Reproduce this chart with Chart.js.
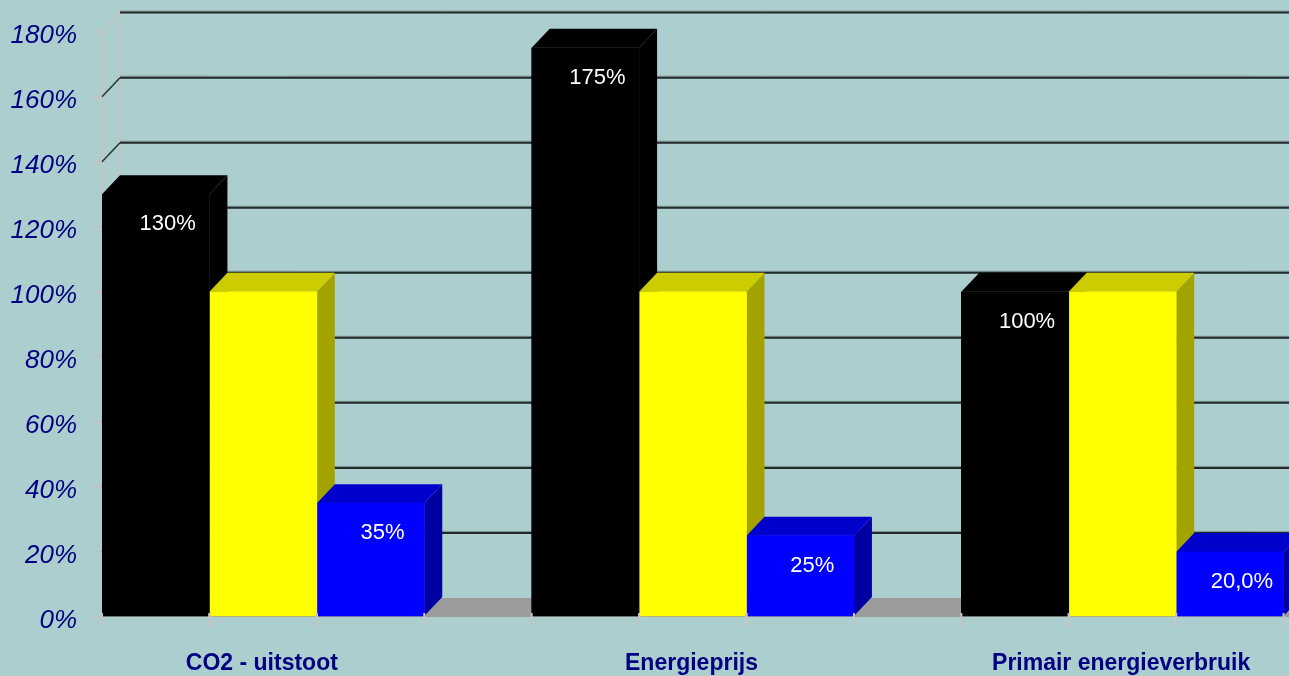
<!DOCTYPE html>
<html>
<head>
<meta charset="utf-8">
<script src="https://cdn.jsdelivr.net/npm/chart.js@4.4.1/dist/chart.umd.min.js"></script>
<style>
html, body { margin: 0; padding: 0; overflow: hidden; background: #adcece; }
#wrap { width: 1400px; height: 676px; }
</style>
</head>
<body>
<div id="wrap"><canvas id="grafiek"></canvas></div>
<script>
const categorieen = ['CO2 - uitstoot', 'Energieprijs', 'Primair energieverbruik'];
const zwart = [130, 175, 100];
const geel = [100, 100, 100];
const blauw = [35, 25, 20];
const labelsZwart = ['130%', '175%', '100%'];
const labelsBlauw = ['35%', '25%', '20,0%'];
const yTicks = [0, 20, 40, 60, 80, 100, 120, 140, 160, 180];

// diepte van het 3D effect
const dx = 18, dy = -19;

const kleuren = [
    { voor: '#000000', top: '#000000', zij: '#000000' },   // zwart
    { voor: '#ffff00', top: '#cccc00', zij: '#a3a300' },   // geel
    { voor: '#0000ff', top: '#0000cc', zij: '#0000a0' },   // blauw
];

function vlak(ctx, punten) {
    ctx.beginPath();
    ctx.moveTo(punten[0][0], punten[0][1]);
    for (let i = 1; i < punten.length; i++) ctx.lineTo(punten[i][0], punten[i][1]);
    ctx.closePath();
    ctx.fill();
}

function lijn(ctx, x0, y0, x1, y1) {
    ctx.beginPath();
    ctx.moveTo(x0, y0);
    ctx.lineTo(x1, y1);
    ctx.stroke();
}

const drieD = {
    id: 'drieD',
    beforeDatasetsDraw(chart) {
        const ctx = chart.ctx;
        const { left, right, top, bottom } = chart.chartArea;
        const y = chart.scales.y;
        ctx.save();

        // achterwand: linkerrand
        ctx.strokeStyle = '#c4c4c4';
        ctx.lineWidth = 1.5;
        lijn(ctx, left + dx, top + dy, left + dx, bottom + dy);

        // rasterlijnen op de achterwand
        yTicks.forEach(v => {
            if (v === 0) return;
            const py = y.getPixelForValue(v);
            ctx.lineWidth = 1.5;
            ctx.strokeStyle = v === yTicks[yTicks.length - 1] ? '#c4c4c4' : '#2a3434';
            lijn(ctx, left, py, left + dx, py + dy);
            ctx.lineWidth = 1;
            ctx.strokeStyle = '#7d9494';
            lijn(ctx, left + dx, py + dy - 1.5, right + dx, py + dy - 1.5);
            ctx.lineWidth = 2;
            ctx.strokeStyle = '#202a2a';
            lijn(ctx, left + dx, py + dy, right + dx, py + dy);
        });

        // vloer
        ctx.fillStyle = '#9c9c9c';
        vlak(ctx, [[left, bottom], [right, bottom], [right + dx, bottom + dy], [left + dx, bottom + dy]]);

        // zij- en bovenvlakken, van links naar rechts
        for (let c = 0; c < categorieen.length; c++) {
            for (let d = 0; d < 3; d++) {
                const bar = chart.getDatasetMeta(d).data[c];
                const x0 = bar.x - bar.width / 2, x1 = bar.x + bar.width / 2;
                ctx.fillStyle = kleuren[d].zij;
                vlak(ctx, [[x1, bar.y], [x1 + dx, bar.y + dy], [x1 + dx, bar.base + dy], [x1, bar.base]]);
                ctx.fillStyle = kleuren[d].top;
                vlak(ctx, [[x0, bar.y], [x0 + dx, bar.y + dy], [x1 + dx, bar.y + dy], [x1, bar.y]]);
            }
        }
        ctx.restore();
    },
    afterDatasetsDraw(chart) {
        const ctx = chart.ctx;
        const { bottom } = chart.chartArea;
        ctx.save();

        // streepjes op de x-as
        ctx.strokeStyle = '#c4c4c4';
        ctx.lineWidth = 2;
        for (let d = 0; d < 3; d++) {
            chart.getDatasetMeta(d).data.forEach(bar => {
                lijn(ctx, bar.x - bar.width / 2, bottom - 4, bar.x - bar.width / 2, bottom + 10);
                lijn(ctx, bar.x + bar.width / 2, bottom - 4, bar.x + bar.width / 2, bottom + 10);
            });
        }

        // waardelabels
        ctx.fillStyle = '#ffffff';
        ctx.font = '22px Arial, "Liberation Sans", sans-serif';
        ctx.textAlign = 'center';
        ctx.textBaseline = 'middle';
        [[0, labelsZwart], [2, labelsBlauw]].forEach(([d, teksten]) => {
            chart.getDatasetMeta(d).data.forEach((bar, i) => {
                ctx.fillText(teksten[i], bar.x + 12, bar.y + 30);
            });
        });
        ctx.restore();
    }
};

new Chart(document.getElementById('grafiek'), {
    type: 'bar',
    data: {
        labels: categorieen,
        datasets: [
            { label: 'zwart', data: zwart, backgroundColor: kleuren[0].voor },
            { label: 'geel', data: geel, backgroundColor: kleuren[1].voor },
            { label: 'blauw', data: blauw, backgroundColor: kleuren[2].voor },
            { label: '', data: [null, null, null] }   // lege ruimte tussen de groepen
        ]
    },
    options: {
        responsive: true,
        maintainAspectRatio: false,
        animation: false,
        events: [],
        layout: { padding: { top: 31, right: 9, left: 0, bottom: 0 } },
        datasets: { bar: { barPercentage: 1, categoryPercentage: 1, borderWidth: 0 } },
        plugins: { legend: { display: false }, tooltip: { enabled: false } },
        scales: {
            x: {
                grid: { display: false },
                border: { display: false },
                afterFit: s => { s.height = 59; },
                ticks: {
                    color: '#000080',
                    font: { family: 'Arial, "Liberation Sans", sans-serif', size: 23, weight: 'bold' },
                    padding: 25,
                    labelOffset: -55,
                    maxRotation: 0,
                    autoSkip: false
                }
            },
            y: {
                min: 0,
                max: 180,
                afterFit: s => { s.width = 102; },
                afterBuildTicks: s => { s.ticks = yTicks.map(v => ({ value: v })); },
                grid: { drawOnChartArea: false, tickLength: 9, tickColor: '#c4c4c4', lineWidth: 2 },
                border: { color: '#c4c4c4', width: 2 },
                ticks: {
                    color: '#000080',
                    font: { family: 'Arial, "Liberation Sans", sans-serif', size: 26, style: 'italic' },
                    padding: 16,
                    labelOffset: 4,
                    callback: v => v + '%'
                }
            }
        }
    },
    plugins: [drieD]
});
</script>
</body>
</html>
